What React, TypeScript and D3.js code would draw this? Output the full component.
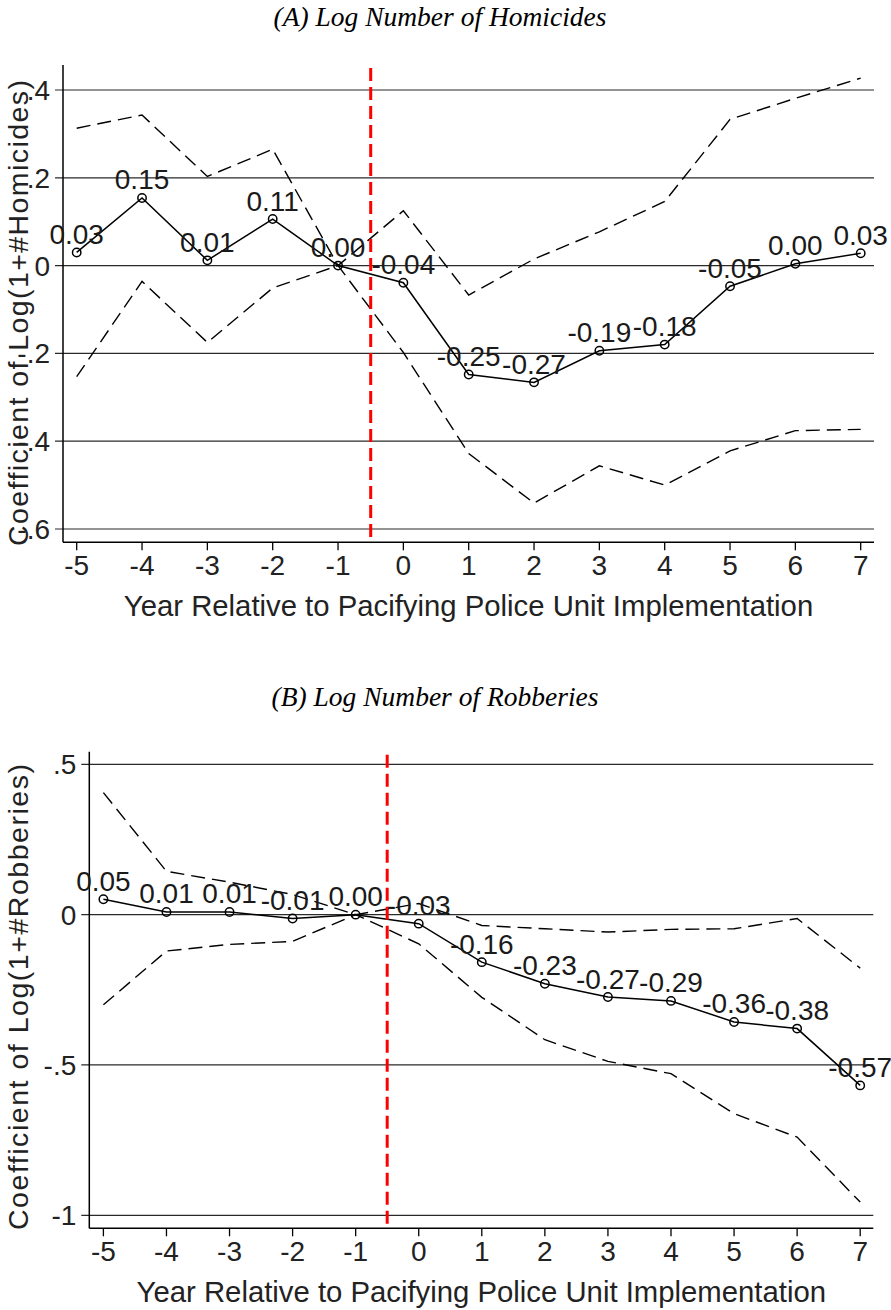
import React from "react";
import * as d3 from "d3";

// ---------- data ----------
const years = [-5, -4, -3, -2, -1, 0, 1, 2, 3, 4, 5, 6, 7];
const xTickLabels = ["-5", "-4", "-3", "-2", "-1", "0", "1", "2", "3", "4", "5", "6", "7"];
const treatmentYear = -0.5;

const homicideEst = [0.03, 0.154, 0.012, 0.106, 0, -0.039, -0.248, -0.266, -0.194, -0.18, -0.047, 0.004, 0.028];
const homicideUpper = [0.313, 0.343, 0.203, 0.265, 0, 0.125, -0.067, 0.015, 0.077, 0.146, 0.333, 0.381, 0.427];
const homicideLower = [-0.253, -0.036, -0.175, -0.051, 0, -0.198, -0.428, -0.541, -0.456, -0.5, -0.422, -0.376, -0.373];
const homicideYTicks = [0.4, 0.2, 0, -0.2, -0.4, -0.6];
const homicideYTickLabels = [".4", ".2", "0", "-.2", "-.4", "-.6"];

const robberyEst = [0.051, 0.009, 0.009, -0.013, 0, -0.03, -0.158, -0.23, -0.274, -0.287, -0.357, -0.379, -0.568];
const robberyUpper = [0.406, 0.144, 0.108, 0.067, 0, 0.037, -0.036, -0.047, -0.058, -0.049, -0.047, -0.013, -0.178];
const robberyLower = [-0.3, -0.121, -0.099, -0.089, 0, -0.097, -0.275, -0.416, -0.488, -0.529, -0.662, -0.74, -0.956];
const robberyYTicks = [0.5, 0, -0.5, -1];
const robberyYTickLabels = [".5", "0", "-.5", "-1"];

const titleA = "(A) Log Number of Homicides";
const titleB = "(B) Log Number of Robberies";
const yTitleA = "Coefficient of Log(1+#Homicides)";
const yTitleB = "Coefficient of Log(1+#Robberies)";
const xTitle = "Year Relative to Pacifying Police Unit Implementation";

// ---------- drawing ----------
const SANS = "'Liberation Sans', Arial, Helvetica, sans-serif";
const SERIF = "'Liberation Serif', 'Times New Roman', serif";

type PanelProps = {
  title: string;
  titleX: number;
  titleY: number;
  yTitle: string;
  yTitleX: number;
  yTitleY: number;
  est: number[];
  upper: number[];
  lower: number[];
  yTicks: number[];
  yTickLabels: string[];
  left: number;
  right: number;
  top: number;
  bottom: number;
  xFirst: number;
  xLast: number;
  yTopGrid: number;
  yBottomGrid: number;
};

function fmt(v: number) {
  const s = v.toFixed(2);
  return s === "-0.00" ? "0.00" : s;
}

function Panel(p: PanelProps) {
  const x = d3.scaleLinear().domain([years[0], years[years.length - 1]]).range([p.xFirst, p.xLast]);
  const y = d3
    .scaleLinear()
    .domain([p.yTicks[p.yTicks.length - 1], p.yTicks[0]])
    .range([p.yBottomGrid, p.yTopGrid]);
  const line = d3
    .line<number>()
    .x((_, i) => x(years[i]))
    .y((d) => y(d));
  const tickLen = 8;
  return (
    <g>
      <text
        x={p.titleX}
        y={p.titleY}
        textAnchor="middle"
        fontFamily={SERIF}
        fontStyle="italic"
        fontSize={27.5}
        fill="#000"
      >
        {p.title}
      </text>
      {/* gridlines */}
      {p.yTicks.map((t, i) => (
        <g key={"g" + i}>
          <line x1={p.left - tickLen} x2={p.right} y1={y(t)} y2={y(t)} stroke="#2a2a2a" strokeWidth={1.2} />
          <text
            x={p.left - tickLen - 5}
            y={y(t)}
            dy="0.36em"
            textAnchor="end"
            fontFamily={SANS}
            fontSize={28}
            fill="#222"
          >
            {p.yTickLabels[i]}
          </text>
        </g>
      ))}
      {/* axes */}
      <line x1={p.left} x2={p.left} y1={p.top} y2={p.bottom} stroke="#000" strokeWidth={1.5} />
      <line x1={p.left} x2={p.right} y1={p.bottom} y2={p.bottom} stroke="#000" strokeWidth={1.5} />
      {years.map((yr, i) => (
        <g key={"x" + i}>
          <line x1={x(yr)} x2={x(yr)} y1={p.bottom} y2={p.bottom + tickLen} stroke="#000" strokeWidth={1.3} />
          <text
            x={x(yr)}
            y={p.bottom + 33}
            textAnchor="middle"
            fontFamily={SANS}
            fontSize={28}
            fill="#222"
          >
            {xTickLabels[i]}
          </text>
        </g>
      ))}
      <text
        x={(p.left + p.right) / 2}
        y={p.bottom + 74}
        textAnchor="middle"
        fontFamily={SANS}
        fontSize={29.3}
        fill="#222"
      >
        {xTitle}
      </text>
      <text
        transform={`translate(${p.yTitleX},${p.yTitleY}) rotate(-90)`}
        textAnchor="middle"
        fontFamily={SANS}
        fontSize={28.5}
        textLength={466}
        lengthAdjust="spacing"
        fill="#222"
      >
        {p.yTitle}
      </text>
      {/* confidence bands */}
      <path d={line(p.upper) || ""} fill="none" stroke="#000" strokeWidth={1.4} strokeDasharray="14 7" />
      <path d={line(p.lower) || ""} fill="none" stroke="#000" strokeWidth={1.4} strokeDasharray="14 7" />
      {/* estimate */}
      <path d={line(p.est) || ""} fill="none" stroke="#000" strokeWidth={1.5} />
      {/* treatment line */}
      <line
        x1={x(treatmentYear)}
        x2={x(treatmentYear)}
        y1={p.top + 3}
        y2={p.bottom}
        stroke="#ff0000"
        strokeWidth={3}
        strokeDasharray="13 6"
      />
      {p.est.map((v, i) => (
        <circle key={"c" + i} cx={x(years[i])} cy={y(v)} r={4.2} fill="none" stroke="#000" strokeWidth={1.5} />
      ))}
      {p.est.map((v, i) => (
        <text
          key={"l" + i}
          x={x(years[i])}
          y={y(v) - 8.5}
          textAnchor="middle"
          fontFamily={SANS}
          fontSize={28}
          fill="#1a1a1a"
        >
          {fmt(v)}
        </text>
      ))}
    </g>
  );
}

export default function App() {
  return (
    <svg
      width={891}
      height={1310}
      viewBox="0 0 891 1310"
      style={{ position: "absolute", left: 0, top: 0, display: "block", background: "#fff" }}
    >
      <rect x={0} y={0} width={891} height={1310} fill="#fff" />
      <Panel
        title={titleA}
        titleX={440}
        titleY={26}
        yTitle={yTitleA}
        yTitleX={28}
        yTitleY={313}
        est={homicideEst}
        upper={homicideUpper}
        lower={homicideLower}
        yTicks={homicideYTicks}
        yTickLabels={homicideYTickLabels}
        left={63}
        right={874}
        top={65}
        bottom={542.3}
        xFirst={76.7}
        xLast={860.7}
        yTopGrid={90}
        yBottomGrid={529}
      />
      <Panel
        title={titleB}
        titleX={435}
        titleY={706}
        yTitle={yTitleB}
        yTitleX={28}
        yTitleY={997}
        est={robberyEst}
        upper={robberyUpper}
        lower={robberyLower}
        yTicks={robberyYTicks}
        yTickLabels={robberyYTickLabels}
        left={89.3}
        right={873.3}
        top={751.7}
        bottom={1228.3}
        xFirst={103.4}
        xLast={860.2}
        yTopGrid={764.3}
        yBottomGrid={1215.3}
      />
    </svg>
  );
}
